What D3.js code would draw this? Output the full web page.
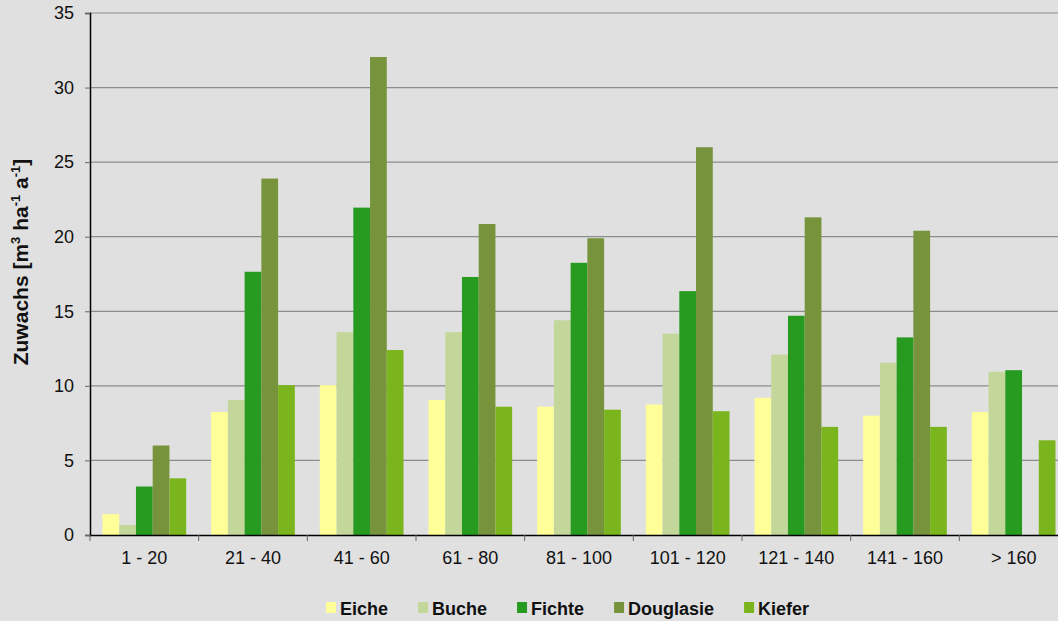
<!DOCTYPE html>
<html lang="de">
<head>
  <meta charset="UTF-8">
  <title>Zuwachs</title>
  <script src="https://d3js.org/d3.v7.min.js" charset="utf-8"></script>
  <style>
    body { margin: 0; background: #e0e0e0; overflow: hidden; }
    svg { display: block; }
    text { font-family: "Liberation Sans", Arial, sans-serif; fill: #111; }
  </style>
</head>
<body>
</body>
<script>
  // Altersklassen
  let categories = ['1 - 20', '21 - 40', '41 - 60', '61 - 80', '81 - 100', '101 - 120', '121 - 140', '141 - 160', '> 160']
  let species = ['Eiche', 'Buche', 'Fichte', 'Douglasie', 'Kiefer']
  let colors = ['#ffff99', '#c4d79b', '#279b1f', '#77933c', '#7ab51d']

  let eiche = [1.4, 8.25, 10.05, 9.05, 8.6, 8.75, 9.2, 8.0, 8.25]
  let buche = [0.67, 9.05, 13.6, 13.6, 14.4, 13.5, 12.1, 11.55, 10.95]
  let fichte = [3.25, 17.65, 21.95, 17.3, 18.25, 16.35, 14.7, 13.25, 11.05]
  let douglasie = [6.0, 23.9, 32.05, 20.85, 19.9, 26.0, 21.3, 20.4, null]
  let kiefer = [3.8, 10.05, 12.4, 8.6, 8.4, 8.3, 7.25, 7.25, 6.35]
  let yTicks = [0, 5, 10, 15, 20, 25, 30, 35]

  let series = [eiche, buche, fichte, douglasie, kiefer]

  let W = 1058, H = 621
  let mLeft = 90, mRight = 1068, mTop = 13, mBottom = 535

  let svg = d3.select('body').append('svg').attr('width', W).attr('height', H)
  svg.append('rect').attr('width', W).attr('height', H).attr('fill', '#e0e0e0')

  let x = d3.scaleBand().domain(categories).range([mLeft, mRight])
  let inner = d3.scaleBand().domain(species).range([12.5, x.bandwidth() - 12.5])
  let y = d3.scaleLinear().domain([0, 35]).range([mBottom, mTop])

  // gridlines
  svg.append('g').selectAll('line').data(yTicks.slice(1)).enter().append('line')
    .attr('x1', mLeft).attr('x2', W)
    .attr('y1', d => y(d)).attr('y2', d => y(d))
    .attr('stroke', '#8c8c8c').attr('stroke-width', 1.2)

  // bars
  let groups = svg.append('g').selectAll('g').data(series).enter().append('g')
    .attr('fill', (d, i) => colors[i])
  groups.selectAll('rect')
    .data((d, i) => d.map((v, j) => ({ v: v, cat: categories[j], sp: species[i] })).filter(o => o.v != null))
    .enter().append('rect')
    .attr('x', d => x(d.cat) + inner(d.sp))
    .attr('width', inner.bandwidth())
    .attr('y', d => y(d.v))
    .attr('height', d => y(0) - y(d.v))

  // y axis
  let yAxis = svg.append('g').attr('transform', 'translate(' + mLeft + ',0)')
    .call(d3.axisLeft(y).tickValues(yTicks).tickSize(5).tickPadding(11))
  yAxis.select('.domain').attr('stroke', '#000').attr('stroke-width', 1.5)
  yAxis.selectAll('.tick line').attr('stroke', '#666')
  yAxis.selectAll('text').style('font-size', '18px').attr('fill', '#111')

  // x axis
  let xAxis = svg.append('g').attr('transform', 'translate(0,' + mBottom + ')')
    .call(d3.axisBottom(x).tickSize(0).tickPadding(16))
  xAxis.select('.domain').attr('stroke', '#000').attr('stroke-width', 1.5)
  xAxis.selectAll('text').style('font-size', '18px').attr('fill', '#111')
  svg.append('g').selectAll('line').data(categories).enter().append('line')
    .attr('x1', d => x(d)).attr('x2', d => x(d))
    .attr('y1', mBottom).attr('y2', mBottom + 6)
    .attr('stroke', '#666')

  // y axis title
  let title = svg.append('text')
    .attr('transform', 'translate(28,262) rotate(-90)')
    .attr('text-anchor', 'middle')
    .style('font-size', '21px').style('font-weight', 'bold')
  title.append('tspan').text('Zuwachs [m')
  title.append('tspan').text('3').attr('dy', -8).style('font-size', '13px')
  title.append('tspan').text(' ha').attr('dy', 8)
  title.append('tspan').text('-1').attr('dy', -8).style('font-size', '13px')
  title.append('tspan').text(' a').attr('dy', 8)
  title.append('tspan').text('-1').attr('dy', -8).style('font-size', '13px')
  title.append('tspan').text(']').attr('dy', 8)

  // legend
  let legend = svg.append('g')
  let lx = 326
  species.forEach((s, i) => {
    legend.append('rect').attr('x', lx).attr('y', 602).attr('width', 10).attr('height', 11).attr('fill', colors[i])
    let t = legend.append('text').attr('x', lx + 14).attr('y', 615)
      .style('font-size', '18px').style('font-weight', 'bold').text(s)
    lx += 14 + t.node().getComputedTextLength() + 30
  })
</script>
</html>
